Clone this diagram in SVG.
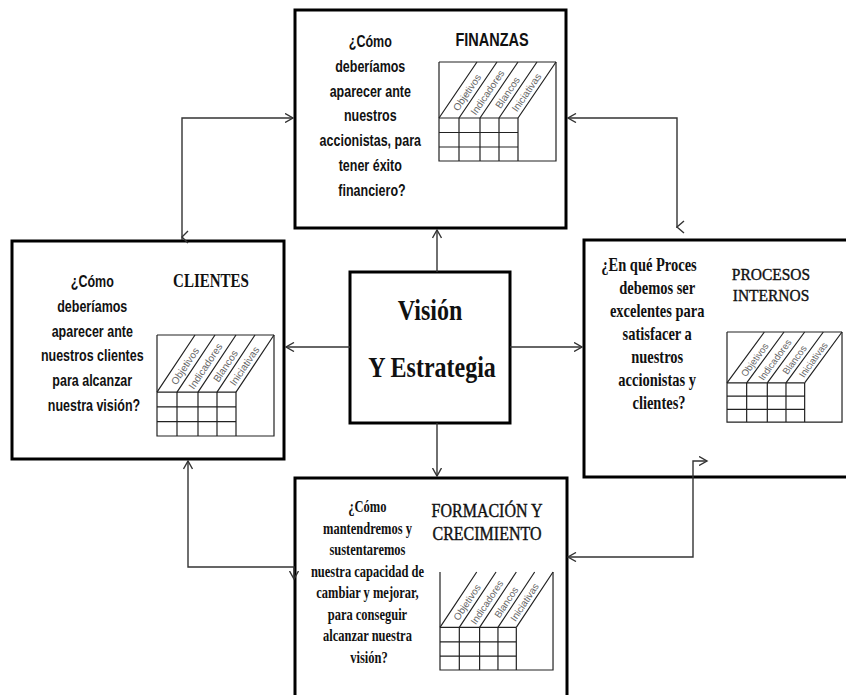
<svg xmlns="http://www.w3.org/2000/svg" xmlns:xlink="http://www.w3.org/1999/xlink" width="846" height="695" viewBox="0 0 846 695">
  <style>
    .box { fill: #fff; stroke: #000; stroke-width: 3; }
    .link { fill: none; stroke: #333; stroke-width: 1.4; }
    .sans { font-family: "Liberation Sans", Arial, sans-serif; font-weight: bold; fill: #111; text-anchor: middle; }
    .serif { font-family: "Liberation Serif", "Times New Roman", serif; fill: #111; text-anchor: middle; }
    .b { font-weight: bold; }
    .hd { stroke: #111; stroke-width: 0.35; }
  </style>
  <defs>
    <marker id="ah" viewBox="0 0 10 10" refX="8.5" refY="5" markerWidth="10" markerHeight="10" markerUnits="userSpaceOnUse" orient="auto-start-reverse">
      <path d="M0.5,0.5 L8.5,5 L0.5,9.5" fill="none" stroke="#333" stroke-width="1.4"/>
    </marker>
    <!-- scorecard mini-table: tilted column headers over a 4x3 grid -->
    <g id="tbl-body">
      <g fill="none" stroke="#222" stroke-width="1.2">
        <path vector-effect="non-scaling-stroke" d="M0,0 V99 H117 V0"/>
        <path vector-effect="non-scaling-stroke" d="M0,56 H79 M0,70.5 H79 M0,85 H79 M20,56 V99 M41,56 V99 M60,56 V99 M79,56 V99"/>
        <path vector-effect="non-scaling-stroke" d="M0,56 L38,0 M20,56 L58,0 M41,56 L79,0 M60,56 L98,0 M79,56 L117,0"/>
      </g>
      <g font-family="Liberation Sans, Arial, sans-serif" font-size="10" fill="#666" text-anchor="middle" dominant-baseline="central">
        <text transform="translate(28,30.5) rotate(-55.8)">Objetivos</text>
        <text transform="translate(48.5,30.5) rotate(-55.8)">Indicadores</text>
        <text transform="translate(68.5,30.5) rotate(-55.8)">Blancos</text>
        <text transform="translate(87.5,30.5) rotate(-55.8)">Iniciativas</text>
      </g>
    </g>
    <g id="tbl">
      <use xlink:href="#tbl-body" href="#tbl-body"/>
      <path vector-effect="non-scaling-stroke" d="M0,0 H117" fill="none" stroke="#222" stroke-width="1.2"/>
    </g>
  </defs>

  <rect width="846" height="695" fill="#fff"/>

  <!-- Finanzas -->
  <g id="finanzas">
    <rect class="box" x="295" y="10" width="271" height="218"/>
    <text class="sans" font-size="12.5" transform="translate(372,47) scale(1,1.3)">
      <tspan x="0" y="0">¿Cómo</tspan>
      <tspan x="0" dy="19.1">deberíamos</tspan>
      <tspan x="0" dy="19.1">aparecer ante</tspan>
      <tspan x="0" dy="19.1">nuestros</tspan>
      <tspan x="0" dy="19.1">accionistas, para</tspan>
      <tspan x="0" dy="19.1">tener éxito</tspan>
      <tspan x="0" dy="19.1">financiero?</tspan>
    </text>
    <text class="sans" font-size="14.5" transform="translate(492,46) scale(1,1.3)">FINANZAS</text>
    <use xlink:href="#tbl" href="#tbl" transform="translate(439,62)"/>
  </g>

  <!-- Clientes -->
  <g id="clientes">
    <rect class="box" x="12" y="241" width="272" height="218"/>
    <text class="sans" font-size="12.5" transform="translate(94,287) scale(1,1.3)">
      <tspan x="0" y="0">¿Cómo</tspan>
      <tspan x="0" dy="19.1">deberíamos</tspan>
      <tspan x="0" dy="19.1">aparecer ante</tspan>
      <tspan x="0" dy="19.1">nuestros clientes</tspan>
      <tspan x="0" dy="19.1">para alcanzar</tspan>
      <tspan x="0" dy="19.1">nuestra visión?</tspan>
    </text>
    <text class="serif b" font-size="15" transform="translate(211,287) scale(1,1.3)">CLIENTES</text>
    <use xlink:href="#tbl" href="#tbl" transform="translate(157,335) scale(1,1.02)"/>
  </g>

  <!-- Visión y Estrategia -->
  <g id="vision">
    <rect class="box" x="350" y="272" width="160" height="151"/>
    <text class="serif b" font-size="24" transform="translate(430,320) scale(1,1.25)">Visión</text>
    <text class="serif b" font-size="24" transform="translate(432,377) scale(1,1.25)">Y Estrategia</text>
  </g>

  <!-- Procesos internos -->
  <g id="procesos">
    <rect class="box" x="584" y="240" width="290" height="237"/>
    <text class="serif b" font-size="14.5" transform="translate(649,271) scale(1,1.3)">¿En qué Proces</text>
    <text class="serif b" font-size="14.5" transform="translate(659,294) scale(1,1.3)">
      <tspan x="0" y="0">debemos ser</tspan>
      <tspan x="0" dy="17.7">excelentes para</tspan>
      <tspan x="0" dy="17.7">satisfacer a</tspan>
      <tspan x="0" dy="17.7">nuestros</tspan>
      <tspan x="0" dy="17.7">accionistas y</tspan>
      <tspan x="0" dy="17.7">clientes?</tspan>
    </text>
    <text class="serif hd" font-size="15.5" transform="translate(771,280) scale(1,1.12)">PROCESOS</text>
    <text class="serif hd" font-size="15.5" transform="translate(771,301) scale(1,1.12)">INTERNOS</text>
    <use xlink:href="#tbl" href="#tbl" transform="translate(727,332) scale(0.983,0.91)"/>
  </g>

  <!-- Formación y crecimiento -->
  <g id="formacion">
    <rect class="box" x="295" y="478" width="272" height="240"/>
    <text class="serif b" font-size="12.5" transform="translate(369,512) scale(1,1.3)">
      <tspan x="0" y="0">¿Cómo</tspan>
      <tspan x="0" dy="16.6">mantendremos y</tspan>
      <tspan x="0" dy="16.6">sustentaremos</tspan>
      <tspan x="0" dy="16.6">nuestra capacidad de</tspan>
      <tspan x="0" dy="16.6">cambiar y mejorar,</tspan>
      <tspan x="0" dy="16.6">para conseguir</tspan>
      <tspan x="0" dy="16.6">alcanzar nuestra</tspan>
      <tspan x="0" dy="16.6">visión?</tspan>
    </text>
    <text class="serif hd" font-size="16" transform="translate(487,517) scale(1,1.12)">FORMACIÓN Y</text>
    <text class="serif hd" font-size="16" transform="translate(487,540) scale(1,1.12)">CRECIMIENTO</text>
    <use xlink:href="#tbl-body" href="#tbl-body" transform="translate(440,572) scale(0.966,0.99)"/>
  </g>

  <!-- connectors -->
  <g id="connectors">
    <path class="link" d="M437,272 V230" marker-end="url(#ah)"/>
    <path class="link" d="M437,423 V476" marker-end="url(#ah)"/>
    <path class="link" d="M350,347 H286" marker-end="url(#ah)"/>
    <path class="link" d="M510,347 H582" marker-end="url(#ah)"/>
    <path class="link" d="M182,240 V118 H293" marker-end="url(#ah)"/>
    <path class="link" d="M188,231 L182,237 L188,243"/>
    <path class="link" d="M677,228 V118 H568" marker-end="url(#ah)"/>
    <path class="link" d="M684,221 L677,227 L684,233"/>
    <path class="link" d="M188,461 V567 H294 V579" marker-start="url(#ah)" marker-end="url(#ah)"/>
    <path class="link" d="M568,557 H693 V461 H707" marker-start="url(#ah)" marker-end="url(#ah)"/>
  </g>
</svg>
